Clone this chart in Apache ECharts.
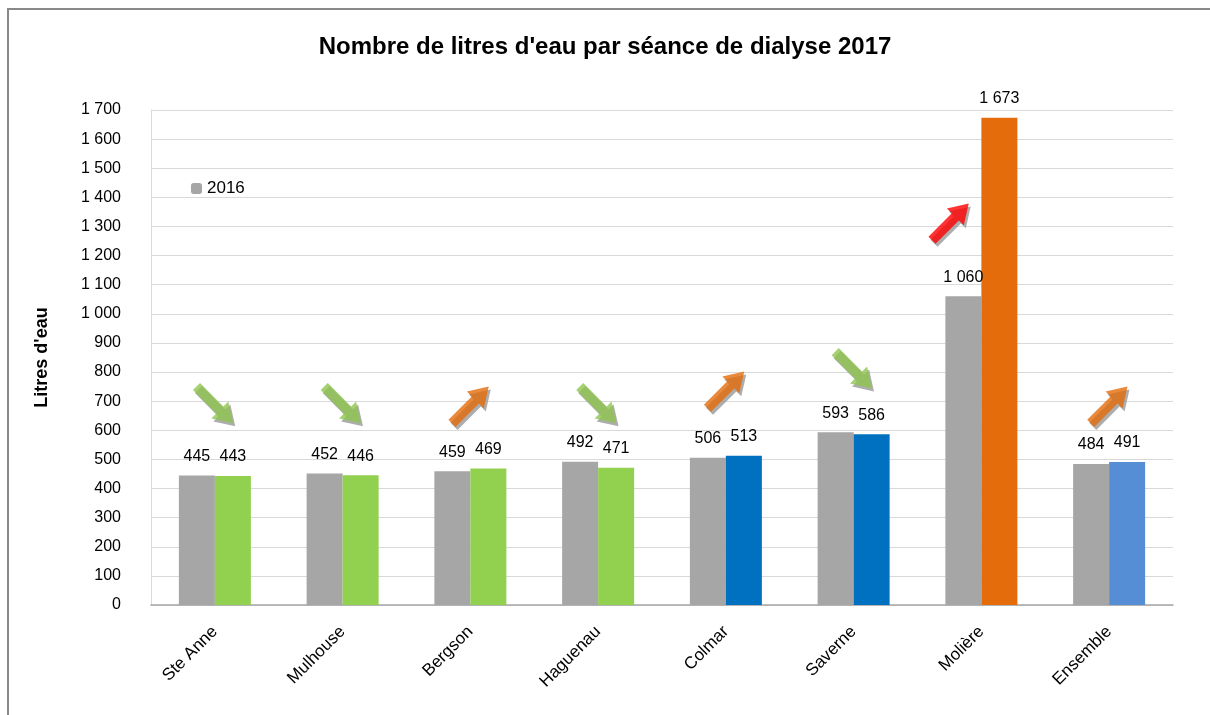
<!DOCTYPE html>
<html><head><meta charset="utf-8">
<script src="https://cdn.jsdelivr.net/npm/echarts@6/dist/echarts.min.js"></script>
<style>html,body{margin:0;padding:0;background:#fff}#c{width:1210px;height:715px}</style>
</head><body><div id="c"></div>
<script>
const categories = ['Ste Anne','Mulhouse','Bergson','Haguenau','Colmar','Saverne','Molière','Ensemble'];
const values2016 = [445,452,459,492,506,593,1060,484];
const values2017 = [443,446,469,471,513,586,1673,491];
const colors2017 = ['#92D050','#92D050','#92D050','#92D050','#0070C0','#0070C0','#E46C0A','#558ED5'];
// trend arrows: direction (1 up, -1 down), colour, vertical placement (value units)
const arrowDir = [-1,-1,1,-1,1,-1,1,1];
const arrowColor = ['#8FC550','#8FC550','#E46C0A','#8FC550','#E46C0A','#8FC550','#FF0000','#E46C0A'];
const arrowPos = [687,687,687,687,739,807,1316,687];
const arrowShift = [0,0,0,0,0,0,-31,0];

const fmt = (v) => String(v).replace(/\B(?=(\d{3})+(?!\d))/g, ' ');
const FONT = 'Liberation Sans';
const arrowPath = 'path://M7,52 L7,19 L0,19 L12,0 L24,19 L17,19 L17,52 Z';

const chart = echarts.init(document.getElementById('c'));
chart.setOption({
  animation:false,
  textStyle:{fontFamily:FONT},
  title:{text:"Nombre de litres d'eau par séance de dialyse 2017",left:'center',top:30,
    textStyle:{fontFamily:FONT,fontSize:24,fontWeight:'bold',color:'#000'}},
  legend:{data:['2016'],left:186,top:175,itemWidth:11,itemHeight:11,itemGap:6,
    textStyle:{fontSize:17,color:'#000'}},
  grid:{left:151,right:37,top:110,bottom:110},
  xAxis:{type:'category',data:categories,
    axisLine:{lineStyle:{color:'#A6A6A6',width:1.5}},axisTick:{show:false},
    axisLabel:{rotate:45,fontSize:17,color:'#000',margin:24}},
  yAxis:{type:'value',min:0,max:1700,interval:100,name:"Litres d'eau",nameLocation:'middle',nameGap:100,
    nameTextStyle:{fontSize:18,fontWeight:'bold',color:'#000'},
    axisLine:{show:true,lineStyle:{color:'#D9D9D9'}},axisTick:{show:false},
    splitLine:{lineStyle:{color:'#D9D9D9'}},
    axisLabel:{fontSize:16,color:'#000',margin:30,formatter:v=>fmt(v)}},
  graphic:[{type:'rect',shape:{x:8,y:9,width:1400,height:900},style:{fill:'none',stroke:'#898989',lineWidth:2},silent:true}],
  series:[
    {name:'2016',type:'bar',data:values2016,barWidth:36,barGap:'0%',itemStyle:{color:'#A6A6A6'},
     label:{show:true,position:'top',fontSize:16,color:'#000',distance:11,formatter:p=>fmt(p.value)}},
    {name:'2017',type:'bar',barWidth:36,
     data:values2017.map((v,i)=>({value:v,itemStyle:{color:colors2017[i]}})),
     label:{show:true,position:'top',fontSize:16,color:'#000',distance:11,formatter:p=>fmt(p.value)}},
    {name:'trend',type:'scatter',z:5,
     data:arrowPos.map((v,i)=>({value:[categories[i],v],symbolRotate:arrowDir[i]>0?-45:-135,
        symbolOffset:[arrowShift[i],0],
        itemStyle:{color:arrowColor[i],shadowColor:'#999',shadowOffsetX:2,shadowOffsetY:3,shadowBlur:0}})),
     symbol:arrowPath,symbolSize:[24,52]}
  ]
});
</script></body></html>
